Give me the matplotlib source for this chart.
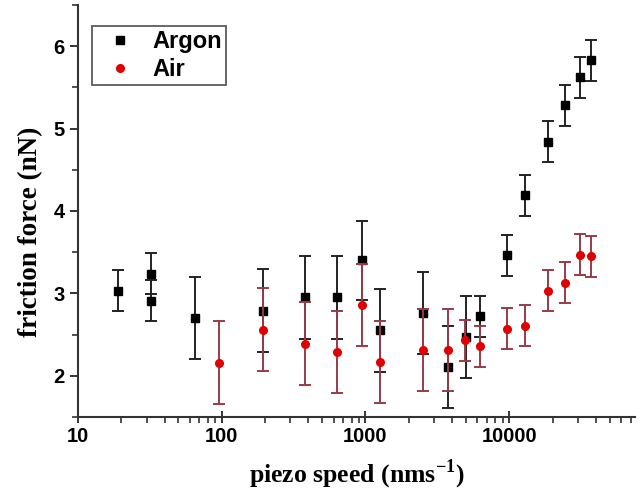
import numpy as np
import matplotlib
matplotlib.use('Agg')
import matplotlib.pyplot as plt
from matplotlib.lines import Line2D
from matplotlib.ticker import LogLocator, MultipleLocator, NullFormatter

plt.rcParams['mathtext.fontset'] = 'custom'
plt.rcParams['mathtext.bf'] = 'Liberation Serif:bold'
plt.rcParams['mathtext.rm'] = 'Liberation Serif:bold'

# Argon data
argon_x = [19, 32, 32, 65, 193, 380, 630, 945, 1260, 2500, 3770, 4980, 6230,
           9650, 12900, 18600, 24600, 31000, 37000]
argon_y = [3.03, 3.24, 2.91, 2.70, 2.79, 2.95, 2.95, 3.40, 2.55, 2.76, 2.11, 2.47, 2.72,
           3.46, 4.19, 4.84, 5.28, 5.62, 5.83]
argon_err = [0.25, 0.25, 0.25, 0.5, 0.5, 0.5, 0.5, 0.48, 0.5, 0.5, 0.5, 0.5, 0.25,
             0.25, 0.25, 0.25, 0.25, 0.25, 0.25]

# Air data
air_x = [95, 193, 380, 630, 950, 1260, 2500, 3770, 4900, 6230, 9650, 12900,
         18600, 24600, 31000, 37000]
air_y = [2.16, 2.56, 2.39, 2.29, 2.86, 2.17, 2.31, 2.31, 2.43, 2.36, 2.57, 2.61,
         3.03, 3.13, 3.47, 3.45]
air_err = [0.5, 0.5, 0.5, 0.5, 0.5, 0.5, 0.5, 0.5, 0.25, 0.25, 0.25, 0.25,
           0.25, 0.25, 0.25, 0.25]

fig = plt.figure(figsize=(6.43, 4.9), dpi=100)
ax = fig.add_axes([0.1213, 0.149, 0.8663, 0.841])

ax.errorbar(argon_x, argon_y, yerr=argon_err, fmt='s', color='black', ms=5.5,
            ecolor='#222222', elinewidth=1.4, capsize=4, capthick=1.4, zorder=3)
ax.errorbar(air_x, air_y, yerr=air_err, fmt='o', color='#e00000', ms=5.5,
            ecolor='#9a3a48', elinewidth=1.4, capsize=4, capthick=1.4, zorder=4)

ax.set_xscale('log')
ax.set_xlim(10, 75000)
ax.set_ylim(1.5, 6.5)

ax.xaxis.set_minor_locator(LogLocator(base=10, subs=np.arange(2, 10), numticks=20))
ax.xaxis.set_minor_formatter(NullFormatter())
ax.set_xticks([10, 100, 1000, 10000])
ax.set_xticklabels(['10', '100', '1000', '10000'])
ax.yaxis.set_minor_locator(MultipleLocator(0.5))
ax.set_yticks([2, 3, 4, 5, 6])
ax.set_yticklabels(['2', '3', '4', '5', '6'])

for side in ['top', 'right']:
    ax.spines[side].set_visible(False)
for side in ['left', 'bottom']:
    ax.spines[side].set_linewidth(1.5)
    ax.spines[side].set_color('#333333')

ax.tick_params(axis='both', which='major', direction='out', length=6, width=1.4,
               colors='#333333', labelsize=14.5, labelcolor='black')
ax.tick_params(axis='both', which='minor', direction='out', length=4, width=1.2, colors='#333333')
ax.tick_params(axis='x', which='major', direction='inout', length=8)
for lab in ax.get_xticklabels() + ax.get_yticklabels():
    lab.set_fontweight('bold')
    lab.set_family('Liberation Sans')

ax.set_xlabel(r'piezo speed (nms$^{\mathbf{-1}}$)', fontsize=18.5, fontweight='bold',
              family='Liberation Serif', labelpad=8)
ax.set_ylabel('friction force (nN)', fontsize=19.5, fontweight='bold',
              family='Liberation Serif')
ax.yaxis.set_label_coords(-0.063, 0.449)

handles = [Line2D([], [], marker='s', color='black', ls='none', ms=5.5),
           Line2D([], [], marker='o', color='#e00000', ls='none', ms=5.5)]
leg = ax.legend(handles, ['Argon', 'Air'], loc='upper left', bbox_to_anchor=(0.025, 0.949),
                borderaxespad=0, frameon=True, fancybox=False,
                prop={'family': 'Liberation Sans', 'weight': 'bold', 'size': 17},
                handletextpad=0.38, borderpad=0.17, labelspacing=0.22, handlelength=2.0)
leg.get_frame().set_edgecolor('#333333')
leg.get_frame().set_linewidth(1.3)

fig.savefig('out.png', dpi=100)
